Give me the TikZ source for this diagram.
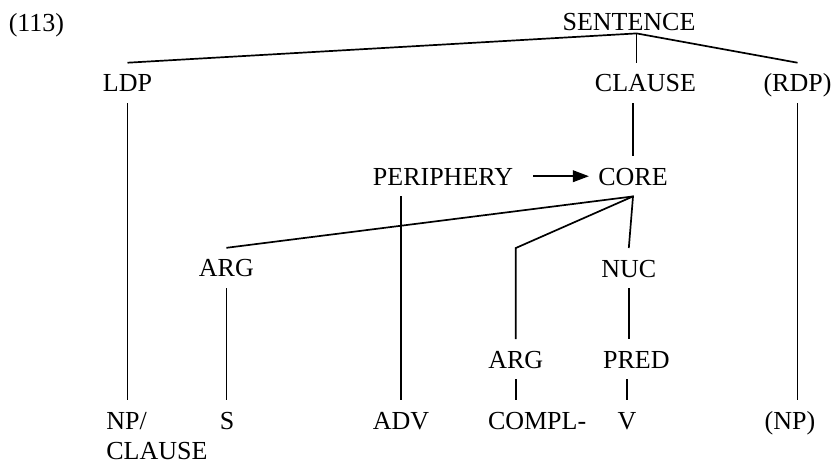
\documentclass[tikz,border=0pt]{standalone}
\usepackage{fontspec}
\setmainfont{Liberation Serif}
\usetikzlibrary{arrows.meta}

\begin{document}
\begin{tikzpicture}[x=1pt,y=-1pt,font=\fontsize{13}{15}\selectfont]

\tikzset{
cat/.style={
    inner xsep=0pt,
    inner ysep=5.5pt,
    text height=8.8pt,
    text depth=0pt,
    anchor=base
},
br/.style={line width=0.85pt},
arr/.style={
    br,
    -{Triangle[length=8pt,width=5.8pt]},
    shorten <=10pt,
    shorten >=4.5pt
}
}

\useasboundingbox (0,0) rectangle (417,231.5);

\node[cat,anchor=base west] (num) at (4.2,15.5) {(113)};
\node[cat,inner ysep=1.5pt] (sentence) at (314.5,15) {SENTENCE};

\node[cat] (ldp) at (63.75,45.85) {LDP};
\node[cat] (clause) at (322.75,45.85) {CLAUSE};
\node[cat] (rdp) at (398.75,45.85) {(RDP)};

\node[cat] (periphery) at (221.5,92.5) {PERIPHERY};
\node[cat] (core) at (316.5,92.5) {CORE};

\node[cat] (argA) at (113.2,138.4) {ARG};
\node[cat] (nuc) at (314.4,138.5) {NUC};

\node[cat] (argB) at (257.9,184) {ARG};
\node[cat] (pred) at (318.2,184) {PRED};

\node[cat,anchor=base west] (npc) at (53,214.6)
{\begin{tabular}[t]{@{}l@{}}NP/\\CLAUSE\end{tabular}};
\node[cat] (s) at (113.5,214.6) {S};
\node[cat] (adv) at (200.5,214.6) {ADV};
\node[cat,anchor=base west] (compl) at (243.8,214.6) {COMPL-};
\node[cat] (v) at (313.5,214.6) {V};
\node[cat] (np) at (395,214.6) {(NP)};

\coordinate (top) at ([xshift=3.8pt]sentence.south);

\draw[br] (ldp.north) -- (top) -- (rdp.north);
\draw[br] (top) -- (top |- clause.north);
\draw[br] (clause.south -| core.north) -- (core.north);

\draw[br] (ldp.south) -- (ldp.south |- npc.north);
\draw[br] (rdp.south) -- (rdp.south |- np.north);
\draw[br] (periphery.south -| adv.north) -- (adv.north);

\draw[arr] (periphery) -- (core);

\draw[br] (argA.north) -- (core.south) -- (nuc.north);
\draw[br] (core.south) -- (nuc.north -| argB.north) -- (argB.north);

\draw[br] (argA.south) -- (argA.south |- s.north);
\draw[br] (nuc.south) -- (nuc.south |- pred.north);
\draw[br] (argB.south) -- (argB.south |- compl.north);
\draw[br] (pred.south -| v.north) -- (v.north);

\end{tikzpicture}
\end{document}
